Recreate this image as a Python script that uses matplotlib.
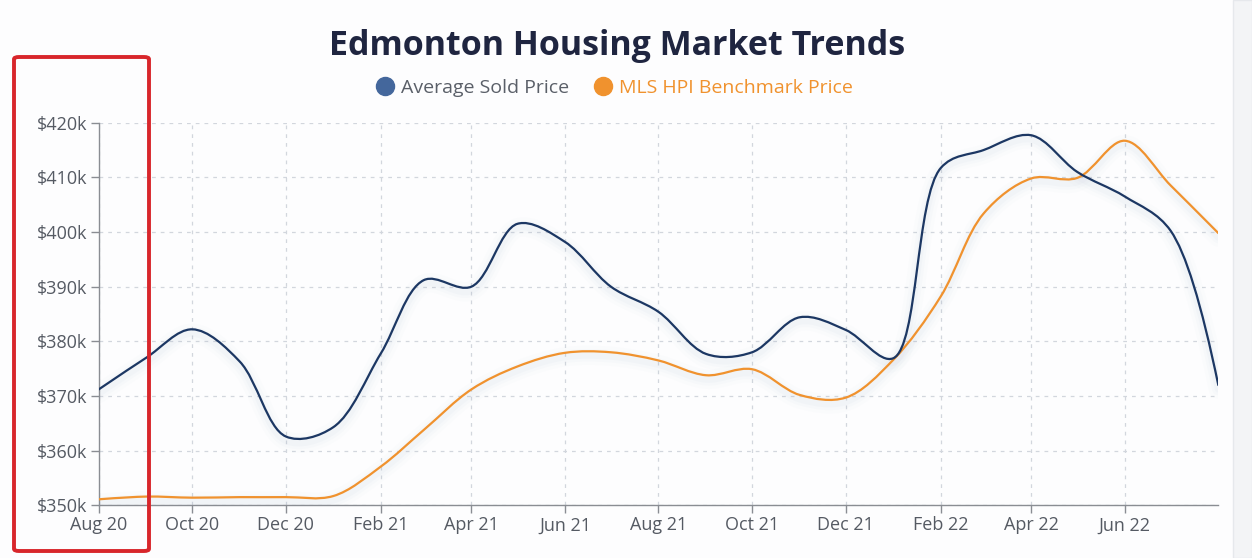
import numpy as np
import matplotlib
matplotlib.use("Agg")
import matplotlib.pyplot as plt
import matplotlib.dates as mdates
from matplotlib.path import Path
from matplotlib.patches import PathPatch, FancyBboxPatch, Rectangle
from matplotlib.lines import Line2D
from matplotlib.ticker import FuncFormatter
from matplotlib.transforms import offset_copy

plt.rcParams['font.family'] = ['Open Sans', 'DejaVu Sans']

# ---- data (monthly, 1st of month) ----
months = ['2020-08', '2020-09', '2020-10', '2020-11', '2020-12',
          '2021-01', '2021-02', '2021-03', '2021-04', '2021-05', '2021-06',
          '2021-07', '2021-08', '2021-09', '2021-10', '2021-11', '2021-12',
          '2022-01', '2022-02', '2022-03', '2022-04', '2022-05', '2022-06',
          '2022-07', '2022-08']
avg_sold = [371.2, 377.0, 382.2, 376.3, 362.6,
            364.3, 377.8, 391.2, 390.0, 401.5, 398.2,
            390.0, 385.4, 377.7, 378.0, 384.4, 382.1,
            376.9, 411.7, 415.0, 417.7, 411.0, 406.5,
            400.2, 372.0]
mls_hpi = [351.1, 351.6, 351.4, 351.5, 351.5,
           351.7, 357.1, 363.8, 371.2, 375.4, 377.9,
           378.0, 376.5, 373.8, 374.9, 370.2, 369.7,
           376.6, 388.2, 403.4, 409.8, 409.9, 416.7,
           408.5, 399.8]
xtick_months = ['2020-08', '2020-10', '2020-12', '2021-02', '2021-04', '2021-06',
                '2021-08', '2021-10', '2021-12', '2022-02', '2022-04', '2022-06']
xtick_labels = ['Aug 20', 'Oct 20', 'Dec 20', 'Feb 21', 'Apr 21', 'Jun 21',
                'Aug 21', 'Oct 21', 'Dec 21', 'Feb 22', 'Apr 22', 'Jun 22']
yticks = [350000, 360000, 370000, 380000, 390000, 400000, 410000, 420000]
series_names = ['Average Sold Price', 'MLS HPI Benchmark Price']

BLUE_LINE = '#1c3763'
BLUE_MARK = '#44679c'
ORANGE = '#f0922e'

def to_num(ms):
    return mdates.date2num(np.array([np.datetime64(m + '-01') for m in ms]))

x = to_num(months)

fig = plt.figure(figsize=(12.52, 5.58), dpi=100, facecolor='#fdfdfe')
ax = fig.add_axes([0.0788, 0.0944, 0.9731 - 0.0788, 0.7801 - 0.0944])
ax.set_facecolor('#fdfdfe')
ax.set_xlim(x[0], x[-1])
ax.set_ylim(350000, 420000)

def make_tangent(prev, this, nxt, smooth=1.0):
    d1 = prev - this
    d2 = nxt - this
    d1a = np.hypot(*d1) ** 0.5
    d2a = np.hypot(*d2) ** 0.5
    num = (d2a * d2a * d1 - d1a * d1a * d2) * smooth
    den1 = 3 * d2a * (d1a + d2a)
    den2 = 3 * d1a * (d1a + d2a)
    return this + num / den1, this - num / den2

def smooth_path(xs, ys):
    # plotly-like centripetal spline, computed in display space
    disp = ax.transData.transform(np.column_stack([xs, ys]))
    n = len(disp)
    tans = [make_tangent(disp[i - 1], disp[i], disp[i + 1]) for i in range(1, n - 1)]
    verts = [disp[0], tans[0][0], disp[1]]
    codes = [Path.MOVETO, Path.CURVE3, Path.CURVE3]
    for i in range(2, n - 1):
        verts += [tans[i - 2][1], tans[i - 1][0], disp[i]]
        codes += [Path.CURVE4] * 3
    verts += [tans[n - 3][1], disp[n - 1]]
    codes += [Path.CURVE3, Path.CURVE3]
    data_verts = ax.transData.inverted().transform(np.array(verts))
    return Path(data_verts, codes)

for ys, col in [(mls_hpi, ORANGE), (avg_sold, BLUE_LINE)]:
    yv = np.array(ys) * 1000.0
    path = smooth_path(x, yv)
    for lw, a in [(14, 0.025), (9, 0.035), (5, 0.05)]:
        ax.add_patch(PathPatch(path, facecolor='none', edgecolor='#9fb0cc', lw=lw, alpha=a,
                               transform=offset_copy(ax.transData, fig=fig, x=0, y=-4, units='dots'),
                               capstyle='round', joinstyle='round', zorder=2))
    ax.add_patch(PathPatch(path, facecolor='none', edgecolor=col, lw=1.6, zorder=3,
                           capstyle='round', joinstyle='round'))

ax.set_xticks(to_num(xtick_months))
ax.set_xticklabels(xtick_labels)
ax.set_yticks(yticks)
ax.yaxis.set_major_formatter(FuncFormatter(lambda v, p: '$%dk' % round(v / 1000)))

ax.grid(True, color='#d2d6dd', lw=0.9, ls=(0, (3, 4)))
ax.set_axisbelow(True)
for s in ['top', 'right']:
    ax.spines[s].set_visible(False)
for s in ['left', 'bottom']:
    ax.spines[s].set_color('#8a8d93')
    ax.spines[s].set_linewidth(1.0)
ax.tick_params(axis='both', direction='out', length=6, width=1, color='#8a8d93',
               labelcolor='#555a63', labelsize=13, pad=2)

fig.text(0.4928, 0.917, 'Edmonton Housing Market Trends', ha='center', va='center',
         fontsize=24.5, fontweight='bold', color='#1f2540')

handles = [Line2D([], [], ls='none', marker='o', ms=13, mfc=BLUE_MARK, mec=BLUE_MARK),
           Line2D([], [], ls='none', marker='o', ms=13, mfc=ORANGE, mec=ORANGE)]
leg = fig.legend(handles, series_names, loc='center', bbox_to_anchor=(0.4905, 0.843),
                 ncol=2, frameon=False, fontsize=14, handletextpad=0.35,
                 columnspacing=1.2, handlelength=1.0)
leg.get_texts()[0].set_color('#5a5f68')
leg.get_texts()[1].set_color(ORANGE)

fig.patches.append(Rectangle((1233 / 1252, 0), 1 - 1233 / 1252, 1, transform=fig.transFigure,
                             facecolor='#f3f4f6', edgecolor='#e6e8ec', lw=1, zorder=0))
fig.patches.append(FancyBboxPatch((14 / 1252, 1 - 551 / 558), 135 / 1252, 494 / 558,
                                  boxstyle='round,pad=0,rounding_size=0.004',
                                  transform=fig.transFigure, facecolor='none',
                                  edgecolor='#d8262b', lw=2.8, zorder=10))

fig.savefig('out.png', dpi=100, facecolor=fig.get_facecolor())
